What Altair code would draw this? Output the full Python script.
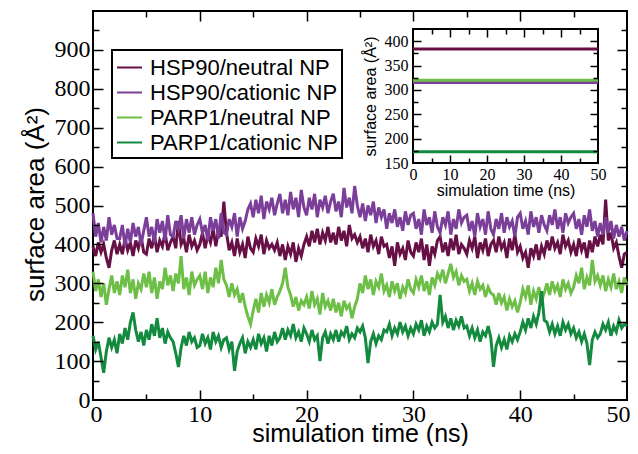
import altair as alt
import pandas as pd

# ---------------- data ----------------
series_names = ["HSP90/neutral NP", "HSP90/cationic NP", "PARP1/neutral NP", "PARP1/cationic NP"]
series_colors = ["#661046", "#7b3f99", "#6dbf47", "#148a3e"]

time_ns = [i * 0.25 for i in range(201)]

hsp90_neutral = [
    395, 370, 405, 380, 400, 365, 340, 385, 410, 375,
    400, 375, 415, 385, 405, 370, 410, 390, 420, 380,
    375, 415, 390, 425, 380, 410, 395, 430, 385, 405,
    420, 390, 460, 400, 415, 380, 425, 395, 410, 385,
    400, 430, 390, 425, 405, 440, 395, 435, 420, 510,
    430, 385, 405, 370, 415, 380, 400, 365, 420, 390,
    380, 415, 395, 425, 375, 410, 390, 400, 385, 405,
    370, 400, 360, 395, 375, 405, 355, 390, 370, 400,
    420, 395, 435, 405, 440, 400, 430, 410, 445, 405,
    430, 400, 445, 410, 435, 395, 450, 415, 425, 405,
    420, 390, 415, 380, 425, 395, 410, 375, 420, 395,
    400, 365, 395, 345, 405, 375, 390, 360, 410, 380,
    370, 405, 380, 415, 360, 400, 345, 395, 375, 410,
    420, 380, 405, 370, 415, 385, 425, 375, 400, 390,
    375, 410, 390, 420, 365, 405, 385, 415, 370, 400,
    410, 380, 420, 390, 405, 365, 415, 385, 425, 380,
    395, 365, 380, 340, 390, 370, 400, 360, 395, 375,
    410, 385, 420, 390, 405, 375, 425, 395, 410, 380,
    400, 370, 415, 385, 405, 365, 410, 380, 420, 395,
    425, 400, 515, 410, 430, 390, 405, 370, 340, 375,
    380,
]

hsp90_cationic = [
    480, 420, 455, 405, 445, 410, 470, 425, 450, 415,
    415, 450, 395, 440, 405, 455, 420, 445, 400, 435,
    470, 420, 445, 405, 465, 430, 460, 410, 475, 425,
    420, 460, 440, 475, 415, 465, 430, 470, 425, 450,
    465, 430, 450, 410, 470, 435, 465, 415, 480, 430,
    425, 465, 445, 480, 420, 470, 440, 460, 490, 505,
    470, 515, 480, 525, 465, 510, 490, 520, 475, 505,
    530, 480, 515, 475, 535, 490, 520, 470, 540, 495,
    475, 520, 490, 530, 470, 515, 495, 525, 480, 510,
    530, 485, 510, 470, 545, 495, 520, 480, 550, 500,
    470, 505, 460, 500, 475, 510, 455, 495, 470, 490,
    440, 480, 455, 490, 445, 470, 435, 485, 450, 475,
    480, 440, 465, 425, 490, 450, 470, 430, 485, 445,
    430, 470, 450, 485, 425, 465, 440, 490, 455, 470,
    475, 435, 460, 420, 480, 445, 465, 425, 485, 440,
    425, 465, 440, 480, 430, 470, 445, 460, 420, 470,
    480, 440, 460, 425, 485, 445, 470, 430, 475, 450,
    435, 475, 450, 490, 440, 470, 430, 480, 455, 470,
    480, 440, 465, 425, 475, 445, 490, 435, 460, 420,
    455, 425, 470, 430, 460, 415, 450, 420, 445, 410,
    435,
]

parp1_neutral = [
    330, 280, 310, 265, 300, 245, 285, 320, 275, 305,
    270, 320, 290, 335, 275, 310, 260, 300, 285, 325,
    290, 330, 275, 315, 260, 305, 285, 340, 295, 320,
    280, 325, 300, 370, 285, 315, 270, 330, 295, 310,
    320, 285, 330, 275, 315, 290, 340, 300, 360, 310,
    295, 265, 300, 270, 285, 250, 275, 240, 215, 195,
    230, 260, 225, 275, 240, 270, 250, 285, 245, 265,
    280, 300, 340, 290, 270, 240, 265, 230, 255, 245,
    265, 235, 280, 245, 260, 220, 275, 240, 255, 230,
    260, 225, 250, 215, 255, 235, 245, 210, 240, 260,
    300, 275, 320, 285, 310, 270, 305, 290, 325, 280,
    295, 265, 305, 280, 300, 260, 290, 275, 310, 285,
    275, 310, 290, 320, 280, 305, 270, 315, 295, 325,
    310, 335, 300, 325, 350, 315, 330, 295, 320, 305,
    310, 280, 300, 270, 305, 285, 295, 265, 290, 275,
    270, 245, 275, 250, 265, 230, 260, 240, 255, 225,
    250, 285, 265, 295, 245, 280, 260, 290, 255, 275,
    300, 270, 305, 280, 295, 265, 310, 285, 300, 275,
    290, 320, 300, 340, 285, 315, 295, 360, 305, 320,
    295, 320, 280, 310, 290, 325, 285, 305, 275, 315,
    295,
]

parp1_cationic = [
    165, 130, 150, 110, 70, 125, 160, 135, 155, 120,
    170, 145, 185, 155, 200, 225, 180, 150, 175, 140,
    180, 155, 195, 165, 210, 160, 185, 145, 175, 160,
    150, 120, 85, 135, 165, 140, 175, 150, 160, 135,
    140, 170, 145, 160, 130, 175, 150, 165, 135, 155,
    160, 130, 150, 75, 125, 145, 160, 120, 150, 135,
    155, 130, 170, 145, 160, 125, 165, 140, 175, 150,
    160, 185, 155, 180, 165, 195, 160, 175, 150, 185,
    170, 150, 180, 155, 165, 100, 160, 175, 145, 170,
    155, 180, 150, 175, 165, 190, 155, 170, 160, 185,
    175, 190, 160, 95, 150, 170, 145, 165, 155, 180,
    175, 195, 165, 185, 170, 200, 175, 190, 165, 185,
    170, 195, 180, 205, 165, 190, 175, 200, 185, 195,
    270, 200, 215, 185, 210, 180, 205, 190, 215, 185,
    190, 165, 185, 160, 180, 150, 175, 165, 190, 160,
    85, 140, 160, 135, 155, 130, 165, 150, 170, 155,
    175, 200, 180, 210, 185, 215, 195, 225, 280, 205,
    200, 175, 195, 170, 190, 165, 200, 180, 195, 170,
    185, 160, 175, 150, 170, 145, 90, 155, 175, 160,
    170, 195, 180, 200, 165, 190, 175, 205, 185, 195,
    190,
]

# inset: constant levels
inset_levels = [384, 315, 320, 173]
inset_time = [0, 50]

# axes
main_x_domain = [0, 50]
main_y_domain = [0, 1000]
main_x_labels = [0, 10, 20, 30, 40, 50]
main_x_major = [10, 20, 30, 40]
main_x_minor = [5, 15, 25, 35, 45]
main_y_labels = [0, 100, 200, 300, 400, 500, 600, 700, 800, 900]
main_y_major = [100, 200, 300, 400, 500, 600, 700, 800, 900]
main_y_minor = [50, 150, 250, 350, 450, 550, 650, 750, 850, 950]

inset_x_domain = [0, 50]
inset_y_domain = [150, 425]
inset_x_labels = [0, 10, 20, 30, 40, 50]
inset_x_major = [10, 20, 30, 40]
inset_x_minor = [5, 15, 25, 35, 45]
inset_y_labels = [150, 200, 250, 300, 350, 400]
inset_y_major = [200, 250, 300, 350, 400]
inset_y_minor = [175, 225, 275, 325, 375]

# ---------------- tables ----------------
rows = []
for name, vals in zip(series_names, [hsp90_neutral, hsp90_cationic, parp1_neutral, parp1_cationic]):
    for t, v in zip(time_ns, vals):
        rows.append({"series": name, "t": t, "area": v})
df = pd.DataFrame(rows)

inset_df = pd.DataFrame({
    "series": series_names,
    "t0": [inset_time[0]] * 4,
    "t1": [inset_time[1]] * 4,
    "area": inset_levels,
})
frame_df = pd.DataFrame({
    "t0": [inset_x_domain[0]], "t1": [inset_x_domain[1]],
    "a0": [inset_y_domain[0]], "a1": [inset_y_domain[1]],
})
dummy_main = pd.DataFrame({"t": [25.0], "area": [500.0]})
dummy_inset = pd.DataFrame({"t": [25.0], "area": [300.0]})

# ---------------- layout ----------------
W, H = 534, 389
IX = [320, 505]
IY = [152, 18]

SANS = "Liberation Sans"
SERIF = "Liberation Serif"

xs_main = alt.Scale(domain=main_x_domain, nice=False, zero=False)
ys_main = alt.Scale(domain=main_y_domain, nice=False, zero=False)
xs_in = alt.Scale(domain=inset_x_domain, range=IX, nice=False, zero=False)
ys_in = alt.Scale(domain=inset_y_domain, range=IY, nice=False, zero=False)

color = alt.Color(
    "series:N",
    scale=alt.Scale(domain=series_names, range=series_colors),
    legend=alt.Legend(
        title=None, orient="none", legendX=19, legendY=39, direction="vertical",
        symbolType="stroke", symbolSize=625, symbolStrokeWidth=2,
        labelFont=SANS, labelFontSize=22, labelColor="black", labelOffset=7,
        labelLimit=400, padding=4, rowPadding=0, strokeColor="black", fillColor="white",
    ),
)


def tick_axis(orient, values, size, offset):
    return alt.Axis(orient=orient, values=values, tickSize=size, offset=offset,
                    labels=False, domain=False, grid=False, ticks=True,
                    tickColor="black", tickWidth=1.5, title=None, zindex=3)


def blank_layer(data, xs, ys, xaxis, yaxis):
    return alt.Chart(data).mark_point(opacity=0, size=1).encode(
        x=alt.X("t:Q", scale=xs, axis=xaxis),
        y=alt.Y("area:Q", scale=ys, axis=yaxis),
    )


lines = alt.Chart(df).mark_line(strokeWidth=3.0).encode(
    x=alt.X("t:Q", scale=xs_main, axis=alt.Axis(
        orient="bottom", values=main_x_labels, ticks=False, tickSize=0, labelPadding=2,
        labelFont=SERIF, labelFontSize=24, labelColor="black",
        labelFlush=True, labelFlushOffset=3,
        domain=False, grid=False, title="simulation time (ns)", titleFont=SANS,
        titleFontSize=25, titleFontWeight="normal", titleColor="black",
        titleBaseline="alphabetic", titleY=41, zindex=3)),
    y=alt.Y("area:Q", scale=ys_main, axis=alt.Axis(
        orient="left", values=main_y_labels, ticks=False, tickSize=0, labelPadding=3,
        labelFont=SERIF, labelFontSize=24, labelColor="black", labelFlush=False,
        domain=False, grid=False, title="surface area (Å²)", titleFont=SANS,
        titleFontSize=26, titleFontWeight="normal", titleColor="black",
        titleBaseline="alphabetic", titleX=-50, titleY=193, zindex=3)),
    color=color,
)

m1 = blank_layer(dummy_main, xs_main, ys_main,
                 tick_axis("top", main_x_major, 10, -H), tick_axis("right", main_y_major, 10, -W))
m2 = blank_layer(dummy_main, xs_main, ys_main,
                 tick_axis("top", main_x_minor, 6, -H), tick_axis("right", main_y_minor, 6, -W))
m3 = blank_layer(dummy_main, xs_main, ys_main,
                 tick_axis("bottom", main_x_major, 10, -H), tick_axis("left", main_y_major, 10, -W))
m4 = blank_layer(dummy_main, xs_main, ys_main,
                 tick_axis("bottom", main_x_minor, 6, -H), tick_axis("left", main_y_minor, 6, -W))

frame = alt.Chart(frame_df).mark_rect(fill="white", stroke="black", strokeWidth=2).encode(
    x=alt.X("t0:Q", scale=xs_in, axis=alt.Axis(
        orient="bottom", offset=-(H - IY[0]), values=inset_x_labels, ticks=False, tickSize=0,
        labelPadding=3, labelFont=SERIF, labelFontSize=16, labelColor="black",
        labelFlush=False, domain=False, grid=False, title="simulation time (ns)",
        titleFont=SANS, titleFontSize=16, titleFontWeight="normal", titleColor="black",
        titleBaseline="alphabetic", titleX=(IX[0] + IX[1]) / 2, titleY=32, zindex=3)),
    x2="t1:Q",
    y=alt.Y("a0:Q", scale=ys_in, axis=alt.Axis(
        orient="left", offset=-IX[0], values=inset_y_labels, ticks=False, tickSize=0,
        labelPadding=5, labelFont=SERIF, labelFontSize=16, labelColor="black",
        labelFlush=False, domain=False, grid=False, title="surface area (Å²)",
        titleFont=SANS, titleFontSize=16, titleFontWeight="normal", titleColor="black",
        titleBaseline="alphabetic", titleX=-38, titleY=(IY[0] + IY[1]) / 2, zindex=3)),
    y2="a1:Q",
)

rules = alt.Chart(inset_df).mark_rule(strokeWidth=3).encode(
    x=alt.X("t0:Q", scale=xs_in, axis=None),
    x2="t1:Q",
    y=alt.Y("area:Q", scale=ys_in, axis=None),
    color=color,
)

i1 = blank_layer(dummy_inset, xs_in, ys_in,
                 tick_axis("top", inset_x_major, 8, -IY[0]), tick_axis("right", inset_y_major, 8, IX[0] - W))
i2 = blank_layer(dummy_inset, xs_in, ys_in,
                 tick_axis("top", inset_x_minor, 5, -IY[0]), tick_axis("right", inset_y_minor, 5, IX[0] - W))
i3 = blank_layer(dummy_inset, xs_in, ys_in,
                 tick_axis("bottom", inset_x_major, 8, IY[1] - H), tick_axis("left", inset_y_major, 8, -IX[1]))
i4 = blank_layer(dummy_inset, xs_in, ys_in,
                 tick_axis("bottom", inset_x_minor, 5, IY[1] - H), tick_axis("left", inset_y_minor, 5, -IX[1]))

chart = alt.layer(lines, m1, m2, m3, m4, frame, rules, i1, i2, i3, i4).resolve_scale(
    x="independent", y="independent"
).properties(
    width=W, height=H,
    padding={"left": 85, "top": 3, "right": 3, "bottom": 46},
    autosize=alt.AutoSizeParams(type="none"),
).configure_view(
    stroke="black", strokeWidth=2
).configure_legend(
    strokeWidth=2
)

chart.save("out.html", embed_options={"renderer": "svg", "actions": False})
